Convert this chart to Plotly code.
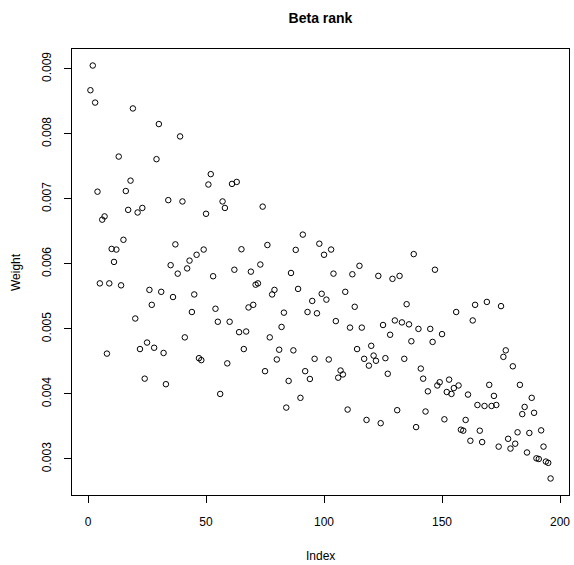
import plotly.graph_objects as go

# Weight values (x 1e-3) for Index 1..196
weight_e3 = [
    8.67, 9.05, 8.48, 7.11, 5.70, 6.68, 6.73, 4.62, 5.70, 6.23,
    6.03, 6.22, 7.65, 5.67, 6.37, 7.12, 6.83, 7.28, 8.39, 5.16,
    6.79, 4.69, 6.86, 4.235, 4.79, 5.60, 5.37, 4.71, 7.61, 8.15,
    5.57, 4.63, 4.15, 6.98, 5.98, 5.49, 6.30, 5.85, 7.96, 6.96,
    4.87, 5.93, 6.05, 5.26, 5.53, 6.14, 4.55, 4.52, 6.22, 6.77,
    7.22, 7.38, 5.81, 5.31, 5.11, 4.00, 6.96, 6.86, 4.47, 5.11,
    7.23, 5.91, 7.26, 4.95, 6.225, 4.69, 4.96, 5.33, 5.88, 5.37,
    5.68, 5.70, 5.99, 6.88, 4.35, 6.29, 4.87, 5.53, 5.60, 4.53,
    4.68, 5.03, 5.25, 3.79, 4.20, 5.86, 4.67, 6.215, 5.615, 3.94,
    6.45, 4.35, 5.26, 4.23, 5.43, 4.54, 5.24, 6.31, 5.54, 6.14,
    5.45, 4.53, 6.22, 5.85, 5.12, 4.25, 4.36, 4.30, 5.57, 3.76,
    5.02, 5.84, 5.34, 4.69, 5.97, 5.02, 4.54, 3.60, 4.435, 4.74,
    4.59, 4.51, 5.815, 3.55, 5.06, 4.55, 4.31, 4.91, 5.77, 5.13,
    3.75, 5.815, 5.10, 4.54, 5.38, 5.07, 4.81, 6.15, 3.49, 5.00,
    4.39, 4.235, 3.73, 4.04, 5.00, 4.80, 5.91, 4.13, 4.18, 4.92,
    3.61, 4.03, 4.22, 4.00, 4.09, 5.26, 4.13, 3.45, 3.435, 3.60,
    3.99, 3.28, 5.13, 5.37, 3.83, 3.435, 3.26, 3.815, 5.415, 4.14,
    3.815, 3.97, 3.83, 3.19, 5.35, 4.57, 4.67, 3.31, 3.16, 4.425,
    3.235, 3.41, 4.14, 3.69, 3.80, 3.10, 3.40, 3.94, 3.71, 3.01,
    3.00, 3.44, 3.19, 2.96, 2.94, 2.70,
]
weight = [w / 1000.0 for w in weight_e3]
index = list(range(1, len(weight) + 1))

x_ticks = [0, 50, 100, 150, 200]
y_ticks = [0.003, 0.004, 0.005, 0.006, 0.007, 0.008, 0.009]
y_ticklabels = ["0.003", "0.004", "0.005", "0.006", "0.007", "0.008", "0.009"]

font_family = "Liberation Sans, Arial, Helvetica, sans-serif"

fig = go.Figure(
    go.Scatter(
        x=index, y=weight, mode="markers",
        marker=dict(symbol="circle-open", size=5.5, color="black",
                    line=dict(width=1, color="black")),
        hoverinfo="x+y",
    )
)

xmin, xmax = 1, len(weight)
xpad = (xmax - xmin) * 0.04
ymin, ymax = min(weight), max(weight)
ypad = (ymax - ymin) * 0.04

fig.update_layout(
    template="none",
    width=574, height=565,
    margin=dict(l=72, r=5, t=49, b=70, autoexpand=False),
    paper_bgcolor="white", plot_bgcolor="white",
    font=dict(family=font_family, size=12, color="black"),
    showlegend=False,
    title=dict(text="<b>Beta rank</b>", x=0.5, xref="paper", xanchor="center",
               y=1 - 18 / 565, yref="container", yanchor="middle",
               font=dict(size=14, family=font_family, color="black")),
    xaxis=dict(range=[xmin - xpad, xmax + xpad], tickmode="array",
               tickvals=x_ticks, ticks="outside", ticklen=7, tickwidth=1,
               tickcolor="black", showline=True, linecolor="black",
               linewidth=1, mirror=True, showgrid=False, zeroline=False,
               automargin=False, ticklabelstandoff=9),
    yaxis=dict(range=[ymin - ypad, ymax + ypad], tickmode="array",
               tickvals=y_ticks, ticktext=y_ticklabels, tickangle=-90,
               ticks="outside", ticklen=7, tickwidth=1, tickcolor="black",
               showline=True, linecolor="black", linewidth=1, mirror=True,
               showgrid=False, zeroline=False, automargin=False,
               ticklabelstandoff=8),
    annotations=[
        dict(text="Index", xref="paper", x=0.5, yref="paper",
             y=-(556 - 495) / 446, xanchor="center", yanchor="middle",
             showarrow=False, font=dict(size=12)),
        dict(text="Weight", xref="paper", x=-(72 - 16) / 497, yref="paper",
             y=0.5, xanchor="center", yanchor="middle", textangle=-90,
             showarrow=False, font=dict(size=12)),
    ],
)

fig.write_html(
    "out.html",
    config={"displayModeBar": False},
    post_script="document.body.style.margin='0';document.body.style.overflow='hidden';",
)
